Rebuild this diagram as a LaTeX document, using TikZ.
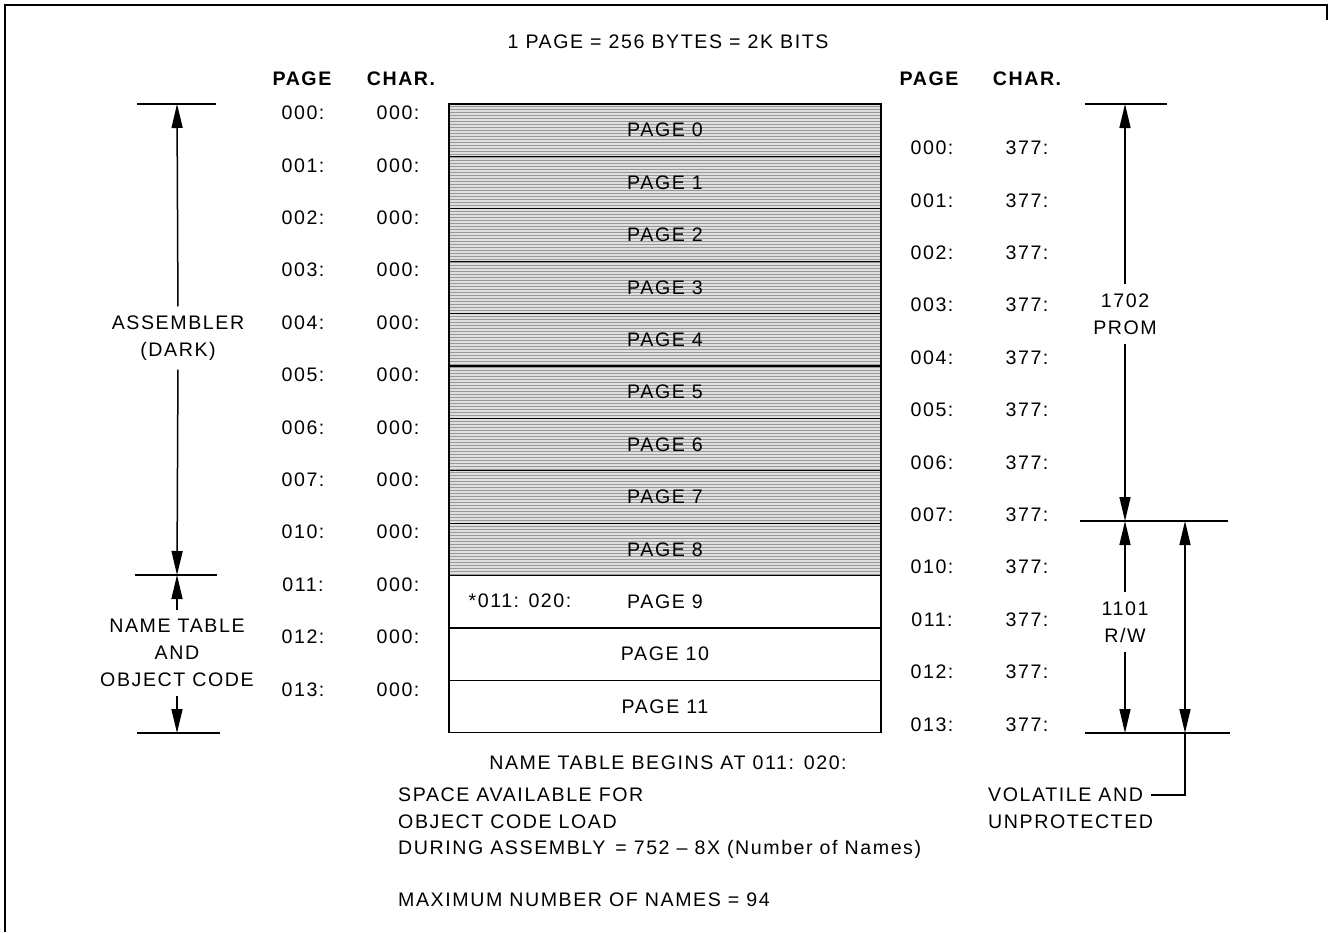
\documentclass[tikz,border=0pt]{standalone}
\usepackage{fontspec}
\setmainfont[LetterSpace=8]{Liberation Sans}
\usetikzlibrary{arrows.meta,patterns}
\begin{document}
\begin{tikzpicture}[x=1pt,y=-1pt,
  txt/.style={font=\fontsize{19.6}{27}\selectfont, inner sep=0pt, align=center},
  hdr/.style={txt, font=\fontsize{19.6}{27}\selectfont\bfseries},
  ltxt/.style={txt, anchor=west, align=left},
  pagebox/.style={draw, line width=1.3pt, minimum width=432pt, minimum height=52.4pt, inner sep=0pt, font=\fontsize{19.6}{27}\selectfont},
  shadedpage/.style={pagebox, preaction={fill=gray!25}, pattern=horizontal lines, pattern color=gray!80},
  dim/.style={line width=1.5pt, shorten <=9pt, -{Triangle[length=24pt,width=11pt]}},
  dimboth/.style={line width=1.5pt, {Triangle[length=24pt,width=11pt]}-{Triangle[length=24pt,width=11pt]}},
  tick/.style={line width=1.5pt},
  frame/.style={line width=1.5pt}
]
\useasboundingbox (0,0) rectangle (1328,932);
% frame
\coordinate (fbl) at (5,932);
\coordinate (ftl) at (5,5);
\coordinate (ftr) at (1327,5);
\coordinate (frr) at (1327,20);
\draw[frame] (fbl) -- (ftl) -- (ftr) -- (frr);

% title and headers
\node[txt] (title) at (668,42) {1 PAGE = 256 BYTES = 2K BITS};
\node[hdr] (hlp) at (302,79) {PAGE};
\node[hdr] (hlc) at (401,79) {CHAR.};
\node[hdr] (hrp) at (929,79) {PAGE};
\node[hdr] (hrc) at (1027,79) {CHAR.};

% address columns
\foreach \i/\p in {0/000,1/001,2/002,3/003,4/004,5/005,6/006,7/007,8/010,9/011,10/012,11/013}{
  \node[txt] (lp\i) at (303,{113+52.4*\i}) {\p:};
  \node[txt] (lc\i) at (398,{113+52.4*\i}) {000:};
  \node[txt] (rp\i) at (932,{148+52.4*\i}) {\p:};
  \node[txt] (rc\i) at (1027,{148+52.4*\i}) {377:};
}

% page boxes
\foreach \i in {0,...,8}{
  \node[shadedpage] (pg\i) at (665,{130.2+52.4*\i}) {PAGE \i};
}
\foreach \i in {9,10,11}{
  \node[pagebox] (pg\i) at (665,{130.2+52.4*\i}) {PAGE \i};
}
\node[txt] (ntstart) at (520,601) {*011: 020:};

% left dimension
\coordinate (la) at (177,104);
\coordinate (lb) at (177,575);
\coordinate (lc) at (177,733);
\draw[tick] (137,104) -- (216,104);
\draw[tick] (135,575) -- (217,575);
\draw[tick] (137,733) -- (220,733);
\node[txt] (asm) at (178,338) {ASSEMBLER\\(DARK)};
\node[txt] (ntab) at (177,653) {NAME TABLE\\AND\\OBJECT CODE};
\draw[dim] (asm.north) -- (la);
\draw[dim] (asm.south) -- (lb);
\draw[dim] (ntab.north) -- (lb);
\draw[dim] (ntab.south) -- (lc);

% right dimension
\coordinate (ra) at (1125,104);
\coordinate (rb) at (1125,521);
\coordinate (rc) at (1125,733);
\coordinate (va) at (1185,521);
\coordinate (vb) at (1185,733);
\draw[tick] (1085,104) -- (1167,104);
\draw[tick] (1080,521) -- (1228,521);
\draw[tick] (1085,733) -- (1230,733);
\node[txt] (prom) at (1125,314) {1702\\PROM};
\node[txt] (rw) at (1125,622) {1101\\R/W};
\draw[dim] (prom.north) -- (ra);
\draw[dim] (prom.south) -- (rb);
\draw[dim] (rw.north) -- (rb);
\draw[dim] (rw.south) -- (rc);
\draw[dimboth] (va) -- (vb);
\node[ltxt] (vol1) at (988,795) {VOLATILE AND};
\node[ltxt] (vol2) at (988,822) {UNPROTECTED};
\draw[tick] ([xshift=8pt]vol1.east) -| (vb);

% bottom notes
\node[txt] (nbeg) at (668,763) {NAME TABLE BEGINS AT 011:\enspace 020:};
\node[ltxt] (sp1) at (398,795) {SPACE AVAILABLE FOR};
\node[ltxt] (sp2) at (398,822) {OBJECT CODE LOAD};
\node[ltxt] (sp3) at (398,849) {DURING ASSEMBLY\enspace = 752 -- 8X (Number of Names)};
\node[ltxt] (maxn) at (398,900) {MAXIMUM NUMBER OF NAMES = 94};
\end{tikzpicture}
\end{document}
